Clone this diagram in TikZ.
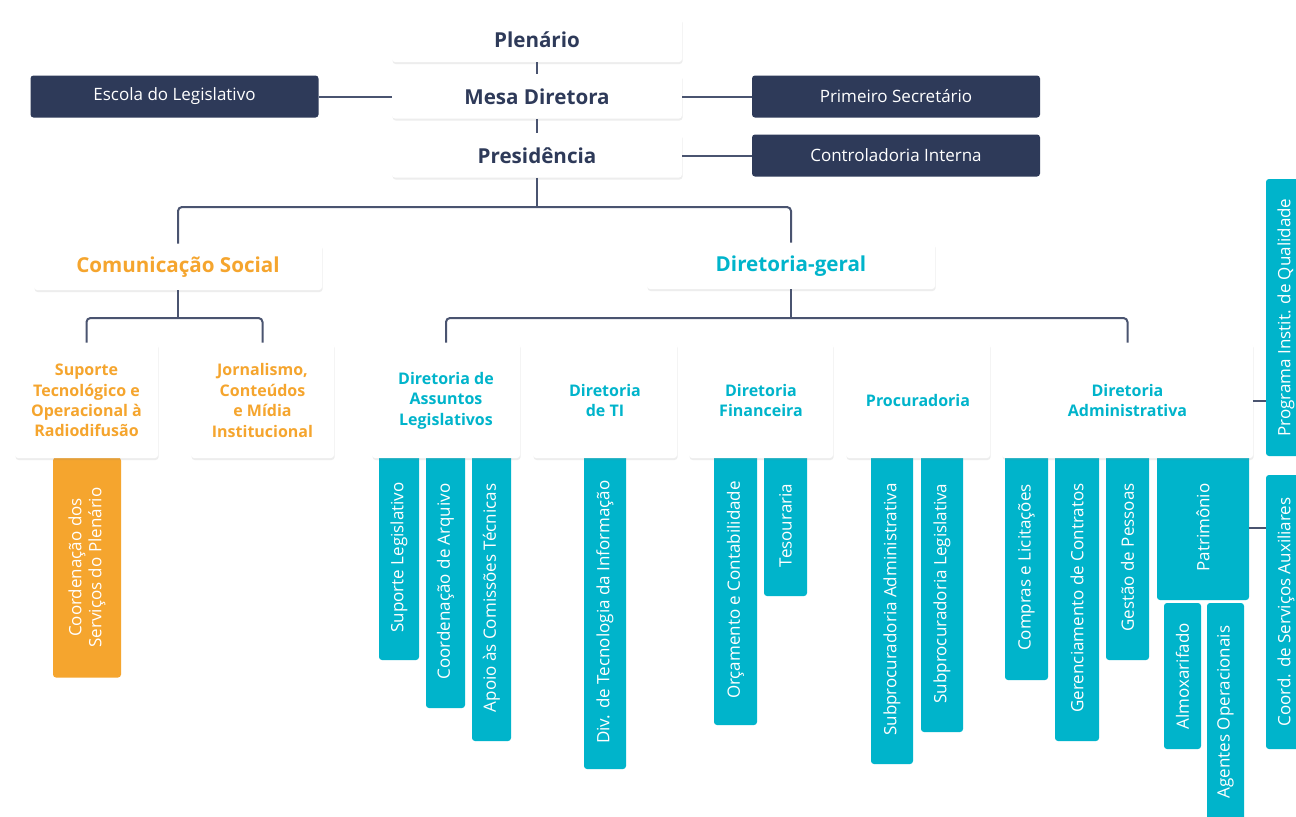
\documentclass[tikz,border=0pt]{standalone}
\usepackage{fontspec}
\setmainfont{Open Sans}
\usetikzlibrary{shadows}
\definecolor{navy}{HTML}{2E3A59}
\definecolor{laranja}{HTML}{F5A52E}
\definecolor{ciano}{HTML}{00B4CB}
\definecolor{linha}{HTML}{4A5470}
\tikzset{
  conn/.style={draw=linha,line width=1pt,rounded corners=2pt},
  wbox/.style={fill=white,rounded corners=1.5pt,inner sep=0pt,align=center,
    drop shadow={shadow xshift=0.3pt,shadow yshift=-1pt,opacity=0.14}},
  topbox/.style={wbox,minimum width=145pt,minimum height=22pt,text=navy,
    font=\bfseries\fontsize{10.3}{12}\selectfont},
  navybox/.style={fill=navy,rounded corners=1.5pt,minimum width=144pt,minimum height=21pt,
    text=white,font=\fontsize{8.5}{10}\selectfont},
  headbox/.style={wbox,minimum width=144pt,minimum height=23pt,
    font=\bfseries\fontsize{10.3}{12}\selectfont},
  unitbox/.style={wbox,minimum height=57.5pt,font=\bfseries\fontsize{8}{10.2}\selectfont},
  bar/.style={rotate=90,rounded corners=1.5pt,inner sep=0pt,align=center,text=white,
    font=\fontsize{8.5}{10}\selectfont},
}
\begin{document}
\begin{tikzpicture}[x=0.5pt,y=-0.5pt]
\useasboundingbox (0,0) rectangle (1296,816);
\clip (0,0) rectangle (1296,816);
\fill[white] (0,0) rectangle (1296,816);
% barras verticais (setores)
\foreach \nm/\xa/\xb/\ya/\yb/\txt in {sl/379/419/455/660/{Suporte Legislativo},
  ca/426/465/455/708/{Coordenação de Arquivo},
  act/472/511/455/741/{Apoio às Comissões Técnicas},
  dtinf/584/626/455/769/{Div. de Tecnologia da Informação},
  orc/714/757/455/725/{Orçamento e Contabilidade},
  tes/764/807/455/596/{Tesouraria},
  sadm/871/913/455/764/{Subprocuradoria Administrativa},
  sleg/921/963/455/732/{Subprocuradoria Legislativa},
  cl/1005/1048/455/680/{Compras e Licitações},
  gc/1055/1099/455/741/{Gerenciamento de Contratos},
  gp/1106/1149/455/660/{Gestão de Pessoas},
  pat/1157/1249/455/600/{Patrimônio},
  alm/1164/1201/603/749/{Almoxarifado},
  ago/1207/1244/603/821/{Agentes Operacionais},
  piq/1266/1306/179/456/{Programa Instit. de Qualidade},
  csa/1266/1306/475/749/{Coord. de Serviços Auxiliares}}{
  \pgfmathsetmacro{\blen}{(\yb-\ya)*0.5}
  \pgfmathsetmacro{\bwid}{(\xb-\xa)*0.5}
  \node[bar,fill=ciano,minimum width=\blen pt,minimum height=\bwid pt]
    (\nm) at ({(\xa+\xb)/2},{(\ya+\yb)/2}) {\txt};
}
\node[bar,fill=laranja,minimum width=110pt,minimum height=34pt] (csp) at (87,567.5)
  {Coordenação dos\\Serviços do Plenário};
% topo
\node[topbox] (plen) at (537,40) {Plenário};
\node[topbox] (mesa) at (537,96.5) {Mesa Diretora};
\node[topbox] (pres) at (537,155.5) {Presidência};
\node[navybox] (escola) at (174.5,96.5) {Escola do Legislativo};
\node[navybox] (prim) at (896,96.5) {Primeiro Secretário};
\node[navybox] (contr) at (896,155.5) {Controladoria Interna};
% comunicacao e diretoria-geral
\node[headbox,text=laranja] (com) at (178,267) {Comunicação Social};
\node[headbox,text=ciano] (dg) at (791,266) {Diretoria-geral};
\node[unitbox,text=laranja,minimum width=71.5pt] (sup) at (86.5,400.5)
  {Suporte\\Tecnológico e\\Operacional à\\Radiodifusão};
\node[unitbox,text=laranja,minimum width=71.5pt] (jor) at (262.5,400.5)
  {Jornalismo,\\Conteúdos\\e Mídia\\Institucional};
\node[unitbox,text=ciano,minimum width=74pt] (dal) at (446,400.5)
  {Diretoria de\\Assuntos\\Legislativos};
\node[unitbox,text=ciano,minimum width=72pt] (dti) at (605,400.5) {Diretoria\\de TI};
\node[unitbox,text=ciano,minimum width=72pt] (dfin) at (761,400.5) {Diretoria\\Financeira};
\node[unitbox,text=ciano,minimum width=72pt] (proc) at (918,400.5) {Procuradoria};
\node[unitbox,text=ciano,minimum width=125.5pt] (dadm) at (1127.5,400.5)
  {Diretoria\\Administrativa};
% ligacoes
\coordinate (jpres) at (537,207);
\coordinate (jcom) at (178,318);
\coordinate (jdg) at (791,318);
\draw[conn] (plen) -- (mesa);
\draw[conn] (mesa) -- (pres);
\draw[conn] (escola) -- (mesa);
\draw[conn] (mesa) -- (prim);
\draw[conn] (pres) -- (contr);
\draw[conn] (pres) -- (jpres);
\draw[conn] (com) |- (jpres) -| (dg);
\draw[conn] (com) -- (jcom);
\draw[conn] (sup) |- (jcom) -| (jor);
\draw[conn] (dg) -- (jdg);
\draw[conn] (dal) |- (jdg) -| (dadm);
\draw[conn] (dadm) -- (dadm -| piq.north);
\draw[conn] (pat) -- (pat -| csa.north);
\end{tikzpicture}
\end{document}
